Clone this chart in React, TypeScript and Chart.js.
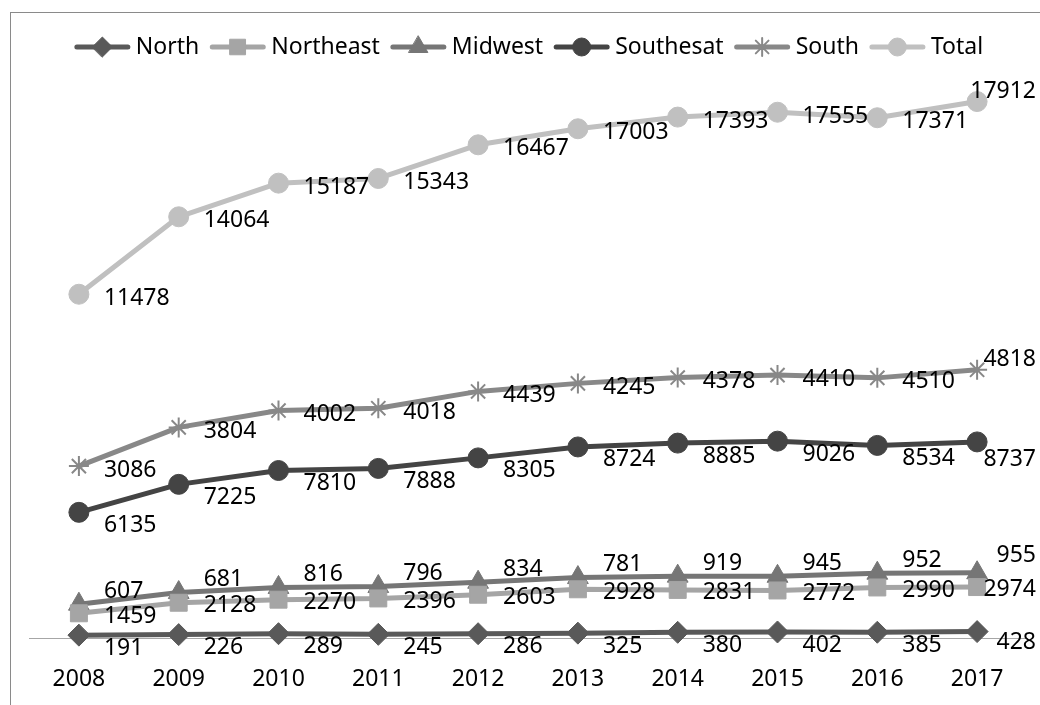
import React, { useEffect, useRef } from 'react';
import { Chart, registerables } from 'chart.js';
import { drawPoint } from 'chart.js/helpers';

Chart.register(...registerables);

const years = ['2008', '2009', '2010', '2011', '2012', '2013', '2014', '2015', '2016', '2017'];
const seriesNames = ['North', 'Northeast', 'Midwest', 'Southesat', 'South', 'Total'];
const north = [191, 226, 289, 245, 286, 325, 380, 402, 385, 428];
const northeast = [1459, 2128, 2270, 2396, 2603, 2928, 2831, 2772, 2990, 2974];
const midwest = [607, 681, 816, 796, 834, 781, 919, 945, 952, 955];
const southeast = [6135, 7225, 7810, 7888, 8305, 8724, 8885, 9026, 8534, 8737];
const south = [3086, 3804, 4002, 4018, 4439, 4245, 4378, 4410, 4510, 4818];
const total = [11478, 14064, 15187, 15343, 16467, 17003, 17393, 17555, 17371, 17912];
const seriesValues = [north, northeast, midwest, southeast, south, total];

const FONT = '"Noto Sans", "DejaVu Sans", sans-serif';

const styles = [
  { color: '#595959', pointStyle: 'rectRot', radius: 11, border: 1, dy: 13, lastDy: 11 },
  { color: '#a5a5a5', pointStyle: 'rect', radius: 12, border: 1, dy: 3, lastDy: 2 },
  { color: '#767676', pointStyle: 'triangle', radius: 12, border: 1, dy: -13, lastDy: -17 },
  { color: '#444444', pointStyle: 'circle', radius: 10, border: 1, dy: 13, lastDy: 18 },
  { color: '#888888', pointStyle: 'star', radius: 10, border: 2, dy: 4, lastDy: -10 },
  { color: '#c0c0c0', pointStyle: 'circle', radius: 10, border: 1, dy: 4, lastDy: -10 },
];

const valueLabels = {
  id: 'valueLabels',
  afterDatasetsDraw(chart: any) {
    const ctx = chart.ctx;
    ctx.save();
    ctx.font = `23px ${FONT}`;
    ctx.fillStyle = '#000';
    ctx.textBaseline = 'middle';
    ctx.textAlign = 'left';
    const maxRight = chart.width - 4;
    chart.data.datasets.forEach((ds: any, di: number) => {
      const meta = chart.getDatasetMeta(di);
      const st = styles[di];
      meta.data.forEach((pt: any, i: number) => {
        const text = String(ds.data[i]);
        const w = ctx.measureText(text).width;
        let x = pt.x + 25;
        let y = pt.y + st.dy;
        if (x + w > maxRight) {
          x = maxRight - w;
          y = pt.y + st.lastDy;
        }
        ctx.fillText(text, x, y);
      });
    });
    ctx.restore();
  },
};

const excelLegend = {
  id: 'excelLegend',
  afterDraw(chart: any) {
    const ctx = chart.ctx;
    ctx.save();
    ctx.font = `23px ${FONT}`;
    const lineLen = 55;
    const gapText = 6;
    const gapItem = 11;
    const items = chart.data.datasets.map((ds: any, i: number) => ({
      label: ds.label as string,
      w: ctx.measureText(ds.label).width,
      st: styles[i],
    }));
    const tw = items.reduce((s: number, it: any) => s + lineLen + gapText + it.w, 0) + gapItem * (items.length - 1);
    let x = 529 - tw / 2;
    const y = 47;
    items.forEach((it: any) => {
      ctx.strokeStyle = it.st.color;
      ctx.lineWidth = 5;
      ctx.lineCap = 'round';
      ctx.beginPath();
      ctx.moveTo(x + 2, y);
      ctx.lineTo(x + lineLen - 2, y);
      ctx.stroke();
      ctx.fillStyle = it.st.color;
      ctx.lineWidth = it.st.border;
      drawPoint(ctx, { pointStyle: it.st.pointStyle, radius: it.st.radius - 1, rotation: 0, borderWidth: it.st.border }, x + lineLen / 2, y);
      ctx.fillStyle = '#000';
      ctx.textBaseline = 'middle';
      ctx.textAlign = 'left';
      ctx.fillText(it.label, x + lineLen + gapText, y);
      x += lineLen + gapText + it.w + gapItem;
    });
    ctx.restore();
  },
};

export default function App() {
  const ref = useRef<HTMLCanvasElement>(null);
  useEffect(() => {
    if (!ref.current) return;
    const chart = new Chart(ref.current, {
      type: 'line',
      data: {
        labels: years,
        datasets: seriesNames.map((name, i) => ({
          label: name,
          data: seriesValues[i],
          borderColor: styles[i].color,
          backgroundColor: styles[i].color,
          borderWidth: 5,
          borderJoinStyle: 'round',
          borderCapStyle: 'round',
          pointStyle: styles[i].pointStyle as any,
          pointRadius: styles[i].radius,
          pointBorderWidth: styles[i].border,
          pointBackgroundColor: styles[i].color,
          pointBorderColor: styles[i].color,
          tension: 0,
          fill: false,
          clip: false as any,
        })),
      },
      options: {
        responsive: false,
        maintainAspectRatio: false,
        animation: false,
        layout: { padding: { top: 39, left: 29, right: 0, bottom: 0 } },
        plugins: { legend: { display: false }, tooltip: { enabled: false } },
        scales: {
          x: {
            offset: true,
            grid: { display: true, drawOnChartArea: false, drawTicks: false },
            border: { display: true, color: '#a6a6a6', width: 1 },
            ticks: { font: { family: FONT, size: 23 }, color: '#000', padding: 28, maxRotation: 0, autoSkip: false },
            afterFit: (s: any) => { s.height = 67; },
          },
          y: { display: false, stacked: true, min: 0, max: 40000 },
        },
      },
      plugins: [valueLabels, excelLegend],
    });
    return () => chart.destroy();
  }, []);
  return (
    <div style={{ position: 'fixed', left: 0, top: 0, width: 1040, height: 705, overflow: 'hidden', background: '#fff' }}>
      <canvas ref={ref} width={1040} height={705} style={{ position: 'absolute', left: 0, top: 0 }} />
      <div style={{ position: 'absolute', left: 10, top: 12, width: 1100, height: 800, borderLeft: '1px solid #8a8a8a', borderTop: '1px solid #8a8a8a', pointerEvents: 'none' }} />
    </div>
  );
}
